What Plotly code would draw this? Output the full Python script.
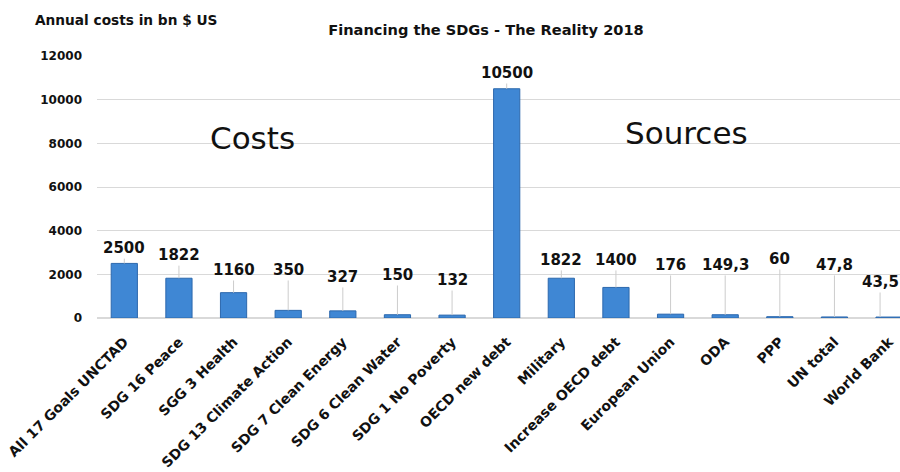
import plotly.graph_objects as go

categories = ["All 17 Goals UNCTAD", "SDG 16 Peace", "SGG 3 Health", "SDG 13 Climate Action",
              "SDG 7 Clean Energy", "SDG 6 Clean Water", "SDG 1 No Poverty", "OECD new debt",
              "Military", "Increase OECD debt", "European Union", "ODA", "PPP", "UN total", "World Bank"]
values = [2500, 1822, 1160, 350, 327, 150, 132, 10500, 1822, 1400, 176, 149.3, 60, 47.8, 43.5]
value_labels = ["2500", "1822", "1160", "350", "327", "150", "132", "10500",
                "1822", "1400", "176", "149,3", "60", "47,8", "43,5"]
# heights (data units) where each value label is placed
label_heights = [3200, 2880, 2200, 2200, 1880, 1970, 1740, 11220,
                 2660, 2660, 2430, 2430, 2700, 2430, 1650]
y_ticks = [0, 2000, 4000, 6000, 8000, 10000, 12000]

FONT = "DejaVu Sans"
TOP, BOTTOM = 56, 318


def py(px):
    return (BOTTOM - px) / (BOTTOM - TOP)


fig = go.Figure()
fig.add_trace(go.Bar(
    x=categories, y=values, width=0.48,
    marker=dict(color="#3f87d4", line=dict(color="#2c68ad", width=1)),
    hoverinfo="x+y",
))

annotations = []
for i, (c, v, t, h) in enumerate(zip(categories, values, value_labels, label_heights)):
    annotations.append(dict(
        x=c, y=v, xref="x", yref="y", text=f"<b>{t}</b>",
        showarrow=True, arrowhead=0, arrowwidth=1, arrowcolor="#cccccc",
        ax=0, ay=h, ayref="y", standoff=0,
        xshift=-9 if i == len(categories) - 1 else 0,
        font=dict(family=FONT, size=15, color="#111111"),
    ))

annotations.append(dict(x=(252 - 97) / 803, y=py(138), xref="paper", yref="paper", text="Costs",
                        xanchor="center", yanchor="middle",
                        showarrow=False, font=dict(family=FONT, size=31, color="#111111")))
annotations.append(dict(x=(686 - 97) / 803, y=py(133), xref="paper", yref="paper", text="Sources",
                        xanchor="center", yanchor="middle",
                        showarrow=False, font=dict(family=FONT, size=31, color="#111111")))
annotations.append(dict(x=(33 - 97) / 803, y=py(20), xref="paper", yref="paper",
                        text="<b>Annual costs in bn $ US</b>", xanchor="left", yanchor="middle",
                        showarrow=False, font=dict(family=FONT, size=13.7, color="#111111")))

fig.update_layout(
    width=900, height=472,
    margin=dict(l=97, r=0, t=TOP, b=472 - BOTTOM),
    paper_bgcolor="white", plot_bgcolor="white",
    showlegend=False,
    title=dict(text="<b>Financing the SDGs - The Reality 2018</b>", x=486 / 900, y=1 - 30 / 472,
               xanchor="center", yanchor="middle",
               font=dict(family=FONT, size=14.6, color="#111111")),
    annotations=annotations,
    font=dict(family=FONT, color="#111111"),
)

fig.update_xaxes(range=[-0.5, 14.2], tickangle=-45, showgrid=False, showline=False,
                 ticks="", ticklabelstandoff=12,
                 tickfont=dict(family=FONT, size=14, color="#111111", weight="bold"))
fig.update_yaxes(range=[0, 12000], tickvals=y_ticks, tickformat="d", showgrid=True,
                 gridcolor="#d9d9d9", zeroline=True, zerolinecolor="#d9d9d9",
                 showline=False, ticks="", ticklabelstandoff=14,
                 tickfont=dict(family=FONT, size=12, color="#111111", weight="bold"))

fig.write_html("out.html")
